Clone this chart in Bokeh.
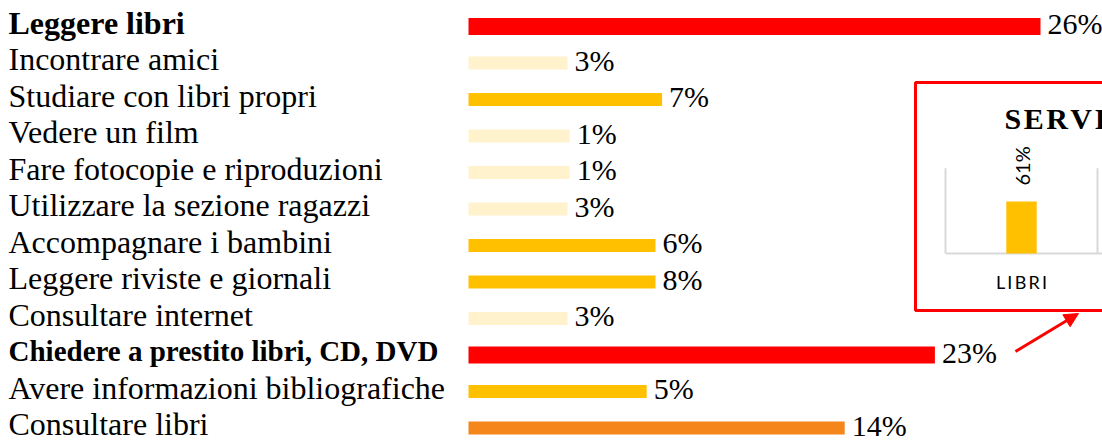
import math
from bokeh.plotting import figure
from bokeh.models import Range1d, ColumnDataSource, Arrow, NormalHead
from bokeh.core.properties import value
from bokeh.embed import file_html
from bokeh.resources import INLINE

# ---------------- data ----------------
activities = [
    "Leggere libri",
    "Incontrare amici",
    "Studiare con libri propri",
    "Vedere un film",
    "Fare fotocopie e riproduzioni",
    "Utilizzare la sezione ragazzi",
    "Accompagnare i bambini",
    "Leggere riviste e giornali",
    "Consultare internet",
    "Chiedere a prestito libri, CD, DVD",
    "Avere informazioni bibliografiche",
    "Consultare libri",
]
percent = [26, 3, 7, 1, 1, 3, 6, 8, 3, 23, 5, 14]
# drawn bar lengths (the infographic is not proportional)
bar_len = [26.0, 4.5, 8.8, 4.6, 4.6, 4.5, 8.5, 8.5, 4.5, 21.2, 8.1, 17.1]

inset_title = "SERVIZI"
inset_categories = ["LIBRI"]
inset_values = [61]
inset_axis_max = 100

# ---------------- layout constants ----------------
W, H = 1102, 441
PX_PER_UNIT = 22.0      # main bar scale
BAR_X0 = 468            # pixel where bars start
ROW0_PX = 26            # pixel centre of first row
ROW_PX = 36.5           # row spacing
LABEL_W = 440           # room available for the category labels

SERIF = value("Liberation Serif")
SANS = value("Lato")


def tier_color(v):
    if v >= 20:
        return "#FF0000"
    if v >= 10:
        return "#F4861B"
    if v >= 5:
        return "#FFC000"
    return "#FFF2CC"


p = figure(
    width=W, height=H, output_backend="svg", toolbar_location=None,
    x_range=Range1d(-BAR_X0 / PX_PER_UNIT, (W - BAR_X0) / PX_PER_UNIT),
    y_range=Range1d((H - ROW0_PX) / ROW_PX, -ROW0_PX / ROW_PX),
    min_border=0, outline_line_color=None,
)
p.axis.visible = False
p.grid.visible = False
p.background_fill_color = "white"
p.border_fill_color = "white"

idx = list(range(len(activities)))
colors = [tier_color(v) for v in percent]
heights = [0.46 if v >= 20 else 0.36 for v in percent]
src = ColumnDataSource(dict(
    y=idx, right=bar_len, color=colors, h=heights, name=activities,
    lab=[f"{v}%" for v in percent],
    laby=[i - 0.07 for i in idx],
))

p.hbar(y="y", left=0, right="right", height="h", fill_color="color",
       line_color=None, source=src)

for bold in (False, True):
    sel = [i for i in idx if (percent[i] >= 20) == bold]
    sizes = ["29px" if (bold and len(activities[i]) > 20) else "32px" for i in sel]
    s = ColumnDataSource(dict(
        y=[idx[i] - 0.1 for i in sel],
        name=[activities[i] for i in sel],
        x=[p.x_range.start] * len(sel),
        fs=sizes,
    ))
    p.text(x="x", y="y", text="name", source=s, x_offset=8,
           text_baseline="middle", text_align="left",
           text_font=SERIF, text_font_size="fs",
           text_font_style="bold" if bold else "normal",
           text_color="black")

p.text(x="right", y="laby", text="lab", source=src, x_offset=7,
       text_baseline="middle", text_align="left",
       text_font=SERIF, text_font_size="30px", text_color="black")

# ---------------- inset (its own scales) ----------------
INSET_X0 = 945          # pixel of inset value axis
INSET_CAT_W = 152       # pixel width of one category
INSET_Y0 = 253          # pixel of inset baseline
INSET_PPU = 52 / 61     # pixels per percent unit


def ix(px):
    return (px - INSET_X0) / INSET_CAT_W


def iy(py):
    return (INSET_Y0 - py) / INSET_PPU


p.extra_x_ranges = {"ix": Range1d(ix(0), ix(W))}
p.extra_y_ranges = {"iy": Range1d(iy(H), iy(0))}
R = dict(x_range_name="ix", y_range_name="iy")

# red frame
p.quad(left=[ix(915)], right=[ix(W + 20)], top=[iy(82)], bottom=[iy(310)],
       fill_color="white", line_color="#FF0000", line_width=3, **R)

# inset axis lines
p.segment(x0=[0, 1, 0], y0=[0, 0, 0], x1=[0, 1, ix(W)],
          y1=[inset_axis_max, inset_axis_max, 0],
          line_color="#D9D9D9", line_width=2, **R)

ipos = [i + 0.5 for i in range(len(inset_categories))]
p.vbar(x=ipos, top=inset_values, bottom=0, width=0.2,
       fill_color="#FFC000", line_color=None, **R)

# rotated value labels above the bar
p.text(x=ipos, y=[v + 16 / INSET_PPU for v in inset_values],
       text=[f"{v}%" for v in inset_values], angle=math.pi / 2,
       text_align="left", text_baseline="middle",
       text_font=SANS, text_font_size="20px", text_color="black", **R)

# category labels (letter spaced)
p.text(x=ipos, y=[-28 / INSET_PPU] * len(ipos),
       text=["\u2009".join(c) for c in inset_categories],
       text_align="center", text_baseline="middle",
       text_font=SANS, text_font_size="18px", text_color="black", **R)

# title
p.text(x=[ix(1004)], y=[iy(118)], text=["\u200a".join(inset_title)],
       text_align="left", text_baseline="middle",
       text_font=SERIF, text_font_size="30px", text_font_style="bold",
       text_color="black", **R)

# arrow from the 23% label towards the inset
p.add_layout(Arrow(
    x_start=ix(1015), y_start=iy(351), x_end=ix(1078), y_end=iy(313),
    line_color="#FF0000", line_width=3,
    end=NormalHead(size=14, fill_color="#FF0000", line_color="#FF0000"),
    **R,
))

open("out.html", "w").write(file_html(p, INLINE))
